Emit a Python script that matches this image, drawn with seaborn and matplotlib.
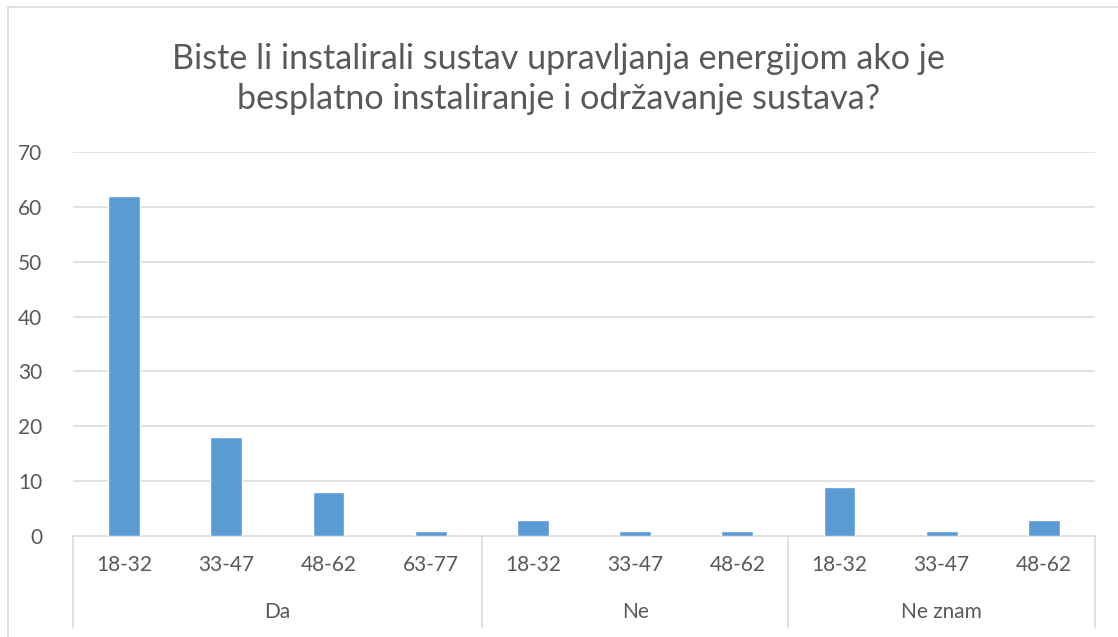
import matplotlib
matplotlib.use("Agg")
import matplotlib.pyplot as plt
from matplotlib.patches import Rectangle
import pandas as pd
import seaborn as sns

# Survey answers, split by age group
groups = ["Da", "Ne", "Ne znam"]
ages_per_group = [
    ["18-32", "33-47", "48-62", "63-77"],
    ["18-32", "33-47", "48-62"],
    ["18-32", "33-47", "48-62"],
]
values_per_group = [
    [62, 18, 8, 1],
    [3, 1, 1],
    [9, 1, 3],
]
title = "Biste li instalirali sustav upravljanja energijom ako je\nbesplatno instaliranje i održavanje sustava?"
y_ticks = [0, 10, 20, 30, 40, 50, 60, 70]

rows = []
for g, ages, vals in zip(groups, ages_per_group, values_per_group):
    for a, v in zip(ages, vals):
        rows.append({"group": g, "age": a, "value": v, "key": f"{g}|{a}"})
df = pd.DataFrame(rows)

sns.set_theme(style="white")
plt.rcParams["font.family"] = ["Lato", "DejaVu Sans"]

TEXT = "#595959"
GRID = "#D9D9D9"
BAR = "#5B9BD5"

W, H = 1118, 637
fig = plt.figure(figsize=(W / 100, H / 100), dpi=100)
ax = fig.add_axes([73 / W, (H - 536) / H, (1095 - 73) / W, (536 - 152) / H])

sns.barplot(data=df, x="key", y="value", order=list(df["key"]), color=BAR,
            width=0.31, saturation=1, ax=ax, errorbar=None, zorder=3)

ax.set_ylim(0, 70)
ax.set_xlim(-0.5, len(df) - 0.5)
ax.set_yticks(y_ticks)
ax.set_yticklabels([str(t) for t in y_ticks], color=TEXT, fontsize=15)
ax.tick_params(axis="y", length=0, pad=22)
ax.set_xticks([])
ax.set_xlabel("")
ax.set_ylabel("")
for t in y_ticks[1:]:
    ax.axhline(t, color=GRID, lw=1.1, zorder=1)
for s in ["top", "right", "left"]:
    ax.spines[s].set_visible(False)
ax.spines["bottom"].set_color(GRID)
ax.spines["bottom"].set_linewidth(1.1)

# Two-level category axis: age labels, group labels and separators
tr = ax.get_xaxis_transform()
axes_h = 536 - 152
for i, a in enumerate(df["age"]):
    ax.text(i, -29 / axes_h, a, transform=tr, ha="center", va="center",
            fontsize=15, color=TEXT)
start = 0
bounds = [-0.5]
for g, ages in zip(groups, ages_per_group):
    n = len(ages)
    ax.text(start + (n - 1) / 2, -76 / axes_h, g, transform=tr, ha="center",
            va="center", fontsize=15, color=TEXT)
    start += n
    bounds.append(start - 0.5)
for b in bounds:
    ax.plot([b, b], [0, -(628 - 536) / axes_h], transform=tr, color=GRID,
            lw=1.1, clip_on=False)

fig.text(0.5, (H - 79) / H, title, ha="center", va="center", fontsize=24.6,
         color=TEXT, linespacing=1.28)

fig.patches.append(Rectangle((8 / W, -0.1), 1.2, (H - 7) / H + 0.1,
                             transform=fig.transFigure, fill=False,
                             edgecolor=GRID, lw=1.2))

fig.savefig("out.png", dpi=100, facecolor="white")
